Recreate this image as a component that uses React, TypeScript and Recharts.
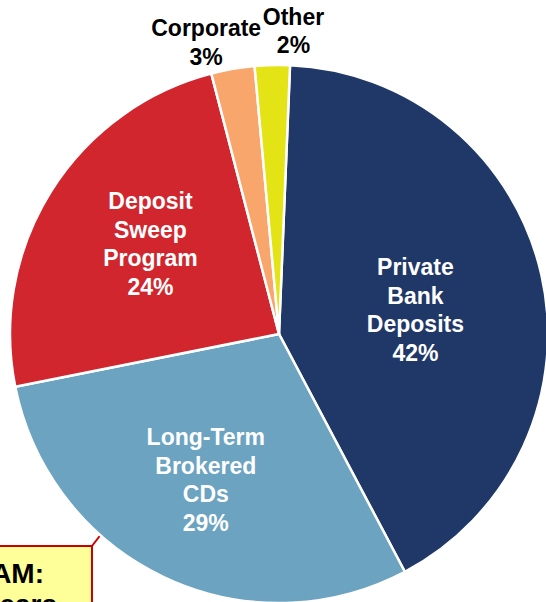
import { Customized, Pie, PieChart, Cell } from 'recharts'

const names = ['Private Bank Deposits', 'Long-Term Brokered CDs', 'Deposit Sweep Program', 'Corporate', 'Other']
const shares = [41.6, 29.6, 24.1, 2.6, 2.1]
const labelLines = [
  ['Private', 'Bank', 'Deposits', '42%'],
  ['Long-Term', 'Brokered', 'CDs', '29%'],
  ['Deposit', 'Sweep', 'Program', '24%'],
  ['Corporate', '3%'],
  ['Other', '2%']
]
const calloutLines = ['AM:', 'years']

const colors = ['#1F3868', '#6BA3C1', '#D1262E', '#F9A66C', '#E3E316']
const labelColors = ['#fff', '#fff', '#fff', '#000', '#000']
// radius factor and nudge for each label block
const labelPlace = [
  { r: 0.52, dx: 0, dy: 7 },
  { r: 0.6, dx: -4, dy: 0 },
  { r: 0.59, dx: 6, dy: -6 },
  { r: 1.1, dx: -22, dy: 0 },
  { r: 1.12, dx: 22, dy: -2 }
]

const data = names.map((name, i) => ({ name, value: shares[i] }))

const FONT = '"Liberation Sans", Arial, sans-serif'
const RAD = Math.PI / 180

function SliceLabel(props: any) {
  const { cx, cy, midAngle, outerRadius, index } = props
  const place = labelPlace[index]
  const lines = labelLines[index]
  const r = outerRadius * place.r
  const x = cx + r * Math.cos(-midAngle * RAD) + place.dx
  const y = cy + r * Math.sin(-midAngle * RAD) + place.dy
  const lh = 28.5
  const first = y - ((lines.length - 1) * lh) / 2 + 8
  return (
    <text
      x={x}
      y={first}
      textAnchor="middle"
      fill={labelColors[index]}
      fontFamily={FONT}
      fontWeight="bold"
      fontSize={23}
    >
      {lines.map((line, i) => (
        <tspan key={line} x={x} dy={i === 0 ? 0 : lh}>
          {line}
        </tspan>
      ))}
    </text>
  )
}

function Callout() {
  return (
    <g>
      <line x1={92} y1={546} x2={102} y2={533} stroke="#CC0000" strokeWidth={2} />
      <rect x={-10} y={546} width={102} height={70} fill="#FFFF99" stroke="#CC0000" strokeWidth={2} />
      <text fontFamily={FONT} fontWeight="bold" fontSize={28} fill="#000">
        <tspan x={44} y={583} textAnchor="end">{calloutLines[0]}</tspan>
        <tspan x={57} y={614} textAnchor="end">{calloutLines[1]}</tspan>
      </text>
    </g>
  )
}

export default function App() {
  return (
    <div style={{ position: 'absolute', left: 0, top: 0, width: 546, height: 602, background: '#fff' }}>
      <PieChart width={546} height={602} margin={{ top: 0, right: 0, bottom: 0, left: 0 }}>
        <Pie
          data={data}
          dataKey="value"
          nameKey="name"
          cx={279}
          cy={334}
          outerRadius={269}
          innerRadius={0}
          startAngle={87.65}
          endAngle={-272.35}
          stroke="#fff"
          strokeWidth={2.5}
          label={SliceLabel}
          labelLine={false}
          isAnimationActive={false}
        >
          {data.map((d, i) => (
            <Cell key={d.name} fill={colors[i]} />
          ))}
        </Pie>
        <Customized component={Callout} />
      </PieChart>
    </div>
  )
}
